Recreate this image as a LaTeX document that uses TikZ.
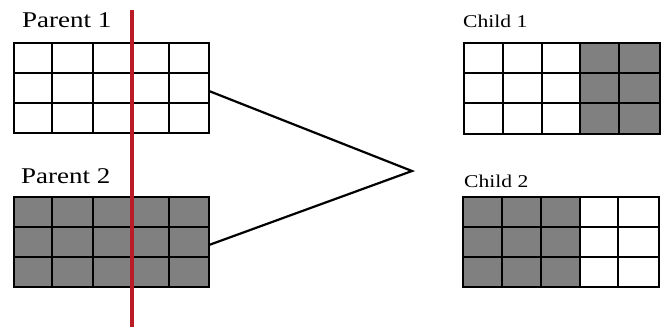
\documentclass[tikz,border=0pt]{standalone}
\usepackage{graphicx}
\usepackage{fontspec}
\setmainfont{Liberation Serif}
\definecolor{cutred}{RGB}{185,28,38}
\definecolor{gene}{RGB}{128,128,128}
\begin{document}
\begin{tikzpicture}[x=1pt,y=-1pt,
  gridline/.style={line width=2.6pt,black},
  cut/.style={line width=3.2pt,cutred},
  link/.style={line width=2.2pt,black},
  bigl/.style={anchor=base west,inner sep=0pt,font=\fontsize{22.5}{27}\selectfont},
  smalll/.style={anchor=base west,inner sep=0pt,font=\fontsize{18}{22}\selectfont}]
\useasboundingbox (0,0) rectangle (667,333);
% labels
\node[bigl] (t1) at (22,27) {\scalebox{1.2}[1]{Parent 1}};
\node[bigl] (t2) at (21,183) {\scalebox{1.2}[1]{Parent 2}};
\node[smalll] (t3) at (463,27) {\scalebox{1.2}[1]{Child 1}};
\node[smalll] (t4) at (464,187) {\scalebox{1.2}[1]{Child 2}};
% Parent 1 grid (white)
\draw[gridline] (14,43) rectangle (209,133);
\foreach \x in {52,93,131,169} \draw[gridline] (\x,43) -- (\x,133);
\foreach \y in {73,103} \draw[gridline] (14,\y) -- (209,\y);
% Parent 2 grid (gray)
\fill[gene] (14,197) rectangle (209,287);
\draw[gridline] (14,197) rectangle (209,287);
\foreach \x in {52,93,131,169} \draw[gridline] (\x,197) -- (\x,287);
\foreach \y in {227,257} \draw[gridline] (14,\y) -- (209,\y);
% Child 1 grid
\fill[gene] (580,43) rectangle (660,134);
\draw[gridline] (464,43) rectangle (660,134);
\foreach \x in {503,542,580,619} \draw[gridline] (\x,43) -- (\x,134);
\foreach \y in {73,103} \draw[gridline] (464,\y) -- (660,\y);
% Child 2 grid
\fill[gene] (463,197) rectangle (580,287);
\draw[gridline] (463,197) rectangle (659,287);
\foreach \x in {502,541,580,618} \draw[gridline] (\x,197) -- (\x,287);
\foreach \y in {227,257} \draw[gridline] (463,\y) -- (659,\y);
% connectors
\coordinate (p1e) at (209,91);
\coordinate (p2e) at (209,245);
\coordinate (apex) at (412,171);
\draw[link] (p1e) -- (apex) -- (p2e);
% crossover cut
\coordinate (cuttop) at (132,10);
\coordinate (cutbot) at (132,327);
\draw[cut] (cuttop) -- (cutbot);
\end{tikzpicture}
\end{document}
